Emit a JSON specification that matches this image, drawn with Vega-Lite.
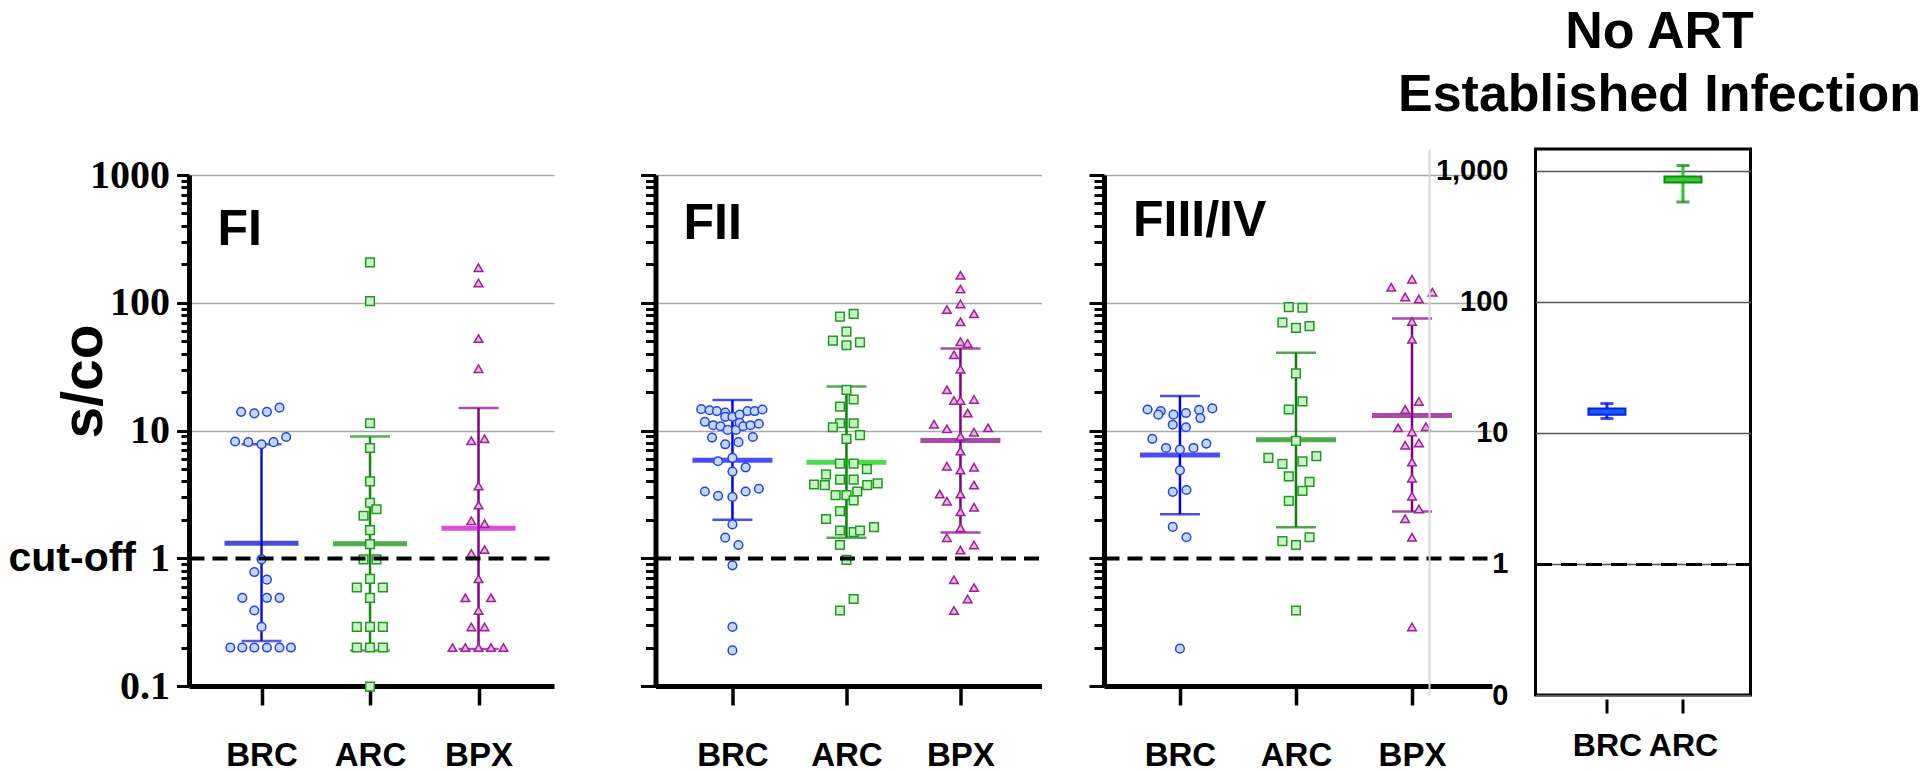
{
"$schema": "https://vega.github.io/schema/vega-lite/v6.json",
"background": "white",
"padding": {"left": 7, "top": 5, "right": 0, "bottom": 5},
"config": {"view": {"stroke": null}, "font": "Liberation Sans"},
"title": {"text": ["No ART", "Established Infection"], "anchor": "start", "frame": "group", "align": "center", "dx": 1470.5, "offset": 26, "font": "Liberation Sans", "fontWeight": "bold", "fontSize": 52, "lineHeight": 63, "color": "black"},
"datasets": {
"points": [
{"p":"FI","g":"BRC","v":14.0,"c":-1.7},{"p":"FI","g":"BRC","v":13.6,"c":-0.6},{"p":"FI","g":"BRC","v":14.0,"c":0.45},{"p":"FI","g":"BRC","v":15.1,"c":1.5},
{"p":"FI","g":"BRC","v":8.2,"c":-2.2},{"p":"FI","g":"BRC","v":8.1,"c":-1.1},{"p":"FI","g":"BRC","v":7.8,"c":0},{"p":"FI","g":"BRC","v":8.1,"c":1.0},{"p":"FI","g":"BRC","v":8.9,"c":2.05},
{"p":"FI","g":"BRC","v":0.98,"c":0},{"p":"FI","g":"BRC","v":0.78,"c":-0.6},{"p":"FI","g":"BRC","v":0.68,"c":0.45},
{"p":"FI","g":"BRC","v":0.49,"c":-1.6},{"p":"FI","g":"BRC","v":0.49,"c":0.45},{"p":"FI","g":"BRC","v":0.49,"c":1.5},
{"p":"FI","g":"BRC","v":0.39,"c":-0.6},{"p":"FI","g":"BRC","v":0.29,"c":0},
{"p":"FI","g":"BRC","v":0.2,"c":-2.6},{"p":"FI","g":"BRC","v":0.2,"c":-1.6},{"p":"FI","g":"BRC","v":0.2,"c":-0.6},{"p":"FI","g":"BRC","v":0.2,"c":0.45},{"p":"FI","g":"BRC","v":0.2,"c":1.5},{"p":"FI","g":"BRC","v":0.2,"c":2.45},
{"p":"FI","g":"ARC","v":207,"c":0},{"p":"FI","g":"ARC","v":103,"c":0},{"p":"FI","g":"ARC","v":11.4,"c":0},{"p":"FI","g":"ARC","v":7.3,"c":0},{"p":"FI","g":"ARC","v":4.0,"c":0},
{"p":"FI","g":"ARC","v":2.72,"c":0},{"p":"FI","g":"ARC","v":2.42,"c":0.54},{"p":"FI","g":"ARC","v":2.15,"c":-0.54},{"p":"FI","g":"ARC","v":1.66,"c":0},{"p":"FI","g":"ARC","v":1.29,"c":0},
{"p":"FI","g":"ARC","v":0.98,"c":-0.54},{"p":"FI","g":"ARC","v":0.98,"c":0.54},{"p":"FI","g":"ARC","v":0.69,"c":0},{"p":"FI","g":"ARC","v":0.59,"c":-1.1},{"p":"FI","g":"ARC","v":0.59,"c":1.07},
{"p":"FI","g":"ARC","v":0.49,"c":0},{"p":"FI","g":"ARC","v":0.29,"c":-1.1},{"p":"FI","g":"ARC","v":0.29,"c":0},{"p":"FI","g":"ARC","v":0.29,"c":1.07},
{"p":"FI","g":"ARC","v":0.2,"c":-1.1},{"p":"FI","g":"ARC","v":0.2,"c":0},{"p":"FI","g":"ARC","v":0.2,"c":1.07},{"p":"FI","g":"ARC","v":0.099,"c":0},
{"p":"FI","g":"BPX","v":188,"c":0},{"p":"FI","g":"BPX","v":143,"c":0},{"p":"FI","g":"BPX","v":52.5,"c":0},{"p":"FI","g":"BPX","v":30.5,"c":0},
{"p":"FI","g":"BPX","v":8.3,"c":-0.6},{"p":"FI","g":"BPX","v":8.6,"c":0.5},{"p":"FI","g":"BPX","v":3.68,"c":0},{"p":"FI","g":"BPX","v":2.61,"c":0},
{"p":"FI","g":"BPX","v":1.97,"c":-0.6},{"p":"FI","g":"BPX","v":1.87,"c":0.5},{"p":"FI","g":"BPX","v":1.09,"c":-0.6},{"p":"FI","g":"BPX","v":1.17,"c":0.5},
{"p":"FI","g":"BPX","v":0.69,"c":0},{"p":"FI","g":"BPX","v":0.49,"c":-1.1},{"p":"FI","g":"BPX","v":0.49,"c":1.04},{"p":"FI","g":"BPX","v":0.39,"c":0},
{"p":"FI","g":"BPX","v":0.29,"c":-0.6},{"p":"FI","g":"BPX","v":0.29,"c":0.5},
{"p":"FI","g":"BPX","v":0.2,"c":-2.17},{"p":"FI","g":"BPX","v":0.2,"c":-1.1},{"p":"FI","g":"BPX","v":0.2,"c":0},{"p":"FI","g":"BPX","v":0.2,"c":1.04},{"p":"FI","g":"BPX","v":0.2,"c":2.08},

{"p":"FII","g":"BRC","v":14.7,"c":-2.6},{"p":"FII","g":"BRC","v":14.4,"c":-1.9},{"p":"FII","g":"BRC","v":14.2,"c":-1.3},{"p":"FII","g":"BRC","v":13.8,"c":-0.6},{"p":"FII","g":"BRC","v":12.8,"c":-0.6},
{"p":"FII","g":"BRC","v":12.8,"c":0},{"p":"FII","g":"BRC","v":13.3,"c":0.6},{"p":"FII","g":"BRC","v":14.2,"c":1.25},{"p":"FII","g":"BRC","v":14.2,"c":1.85},{"p":"FII","g":"BRC","v":14.6,"c":2.5},
{"p":"FII","g":"BRC","v":11.7,"c":-2.3},{"p":"FII","g":"BRC","v":11.0,"c":-1.6},{"p":"FII","g":"BRC","v":10.8,"c":-1.0},{"p":"FII","g":"BRC","v":10.1,"c":-0.4},{"p":"FII","g":"BRC","v":10.1,"c":0.3},
{"p":"FII","g":"BRC","v":11.5,"c":0.6},{"p":"FII","g":"BRC","v":10.8,"c":0.9},{"p":"FII","g":"BRC","v":11.0,"c":1.5},{"p":"FII","g":"BRC","v":11.3,"c":2.2},
{"p":"FII","g":"BRC","v":8.8,"c":-1.7},{"p":"FII","g":"BRC","v":7.8,"c":-0.6},{"p":"FII","g":"BRC","v":8.1,"c":0.5},{"p":"FII","g":"BRC","v":8.9,"c":1.7},
{"p":"FII","g":"BRC","v":6.1,"c":0},{"p":"FII","g":"BRC","v":5.75,"c":-1.2},{"p":"FII","g":"BRC","v":4.77,"c":0},{"p":"FII","g":"BRC","v":5.15,"c":1.1},
{"p":"FII","g":"BRC","v":3.33,"c":-2.3},{"p":"FII","g":"BRC","v":3.08,"c":-1.2},{"p":"FII","g":"BRC","v":3.02,"c":0},{"p":"FII","g":"BRC","v":3.33,"c":1.1},{"p":"FII","g":"BRC","v":3.5,"c":2.2},
{"p":"FII","g":"BRC","v":1.84,"c":0},{"p":"FII","g":"BRC","v":1.45,"c":-0.6},{"p":"FII","g":"BRC","v":1.27,"c":0.5},
{"p":"FII","g":"BRC","v":0.88,"c":0},{"p":"FII","g":"BRC","v":0.29,"c":0},{"p":"FII","g":"BRC","v":0.19,"c":0},
{"p":"FII","g":"ARC","v":77.8,"c":-0.54},{"p":"FII","g":"ARC","v":81.9,"c":0.6},{"p":"FII","g":"ARC","v":59.4,"c":0},{"p":"FII","g":"ARC","v":50.6,"c":-1.13},{"p":"FII","g":"ARC","v":49.0,"c":1.13},
{"p":"FII","g":"ARC","v":46.5,"c":0},{"p":"FII","g":"ARC","v":20.8,"c":0},{"p":"FII","g":"ARC","v":17.5,"c":0.6},{"p":"FII","g":"ARC","v":15.4,"c":-0.54},{"p":"FII","g":"ARC","v":11.4,"c":-0.54},
{"p":"FII","g":"ARC","v":11.4,"c":0.6},{"p":"FII","g":"ARC","v":10.6,"c":-1.13},{"p":"FII","g":"ARC","v":9.2,"c":1.13},{"p":"FII","g":"ARC","v":8.6,"c":0},{"p":"FII","g":"ARC","v":5.5,"c":-0.54},
{"p":"FII","g":"ARC","v":5.5,"c":0.6},{"p":"FII","g":"ARC","v":4.99,"c":1.7},{"p":"FII","g":"ARC","v":4.53,"c":-1.7},{"p":"FII","g":"ARC","v":4.12,"c":-0.54},{"p":"FII","g":"ARC","v":4.12,"c":0.6},
{"p":"FII","g":"ARC","v":3.78,"c":-2.7},{"p":"FII","g":"ARC","v":3.74,"c":-1.8},{"p":"FII","g":"ARC","v":3.74,"c":1.73},{"p":"FII","g":"ARC","v":3.86,"c":2.6},{"p":"FII","g":"ARC","v":3.33,"c":0.9},
{"p":"FII","g":"ARC","v":3.12,"c":-0.9},{"p":"FII","g":"ARC","v":3.12,"c":0},{"p":"FII","g":"ARC","v":2.84,"c":0.6},{"p":"FII","g":"ARC","v":2.34,"c":-0.54},{"p":"FII","g":"ARC","v":2.03,"c":-1.7},
{"p":"FII","g":"ARC","v":1.65,"c":-0.54},{"p":"FII","g":"ARC","v":1.6,"c":0.6},{"p":"FII","g":"ARC","v":1.65,"c":1.13},{"p":"FII","g":"ARC","v":1.75,"c":2.3},{"p":"FII","g":"ARC","v":1.27,"c":-0.54},
{"p":"FII","g":"ARC","v":0.97,"c":0},{"p":"FII","g":"ARC","v":0.48,"c":0.6},{"p":"FII","g":"ARC","v":0.39,"c":-0.54},
{"p":"FII","g":"BPX","v":164,"c":0},{"p":"FII","g":"BPX","v":128,"c":0},{"p":"FII","g":"BPX","v":98,"c":0},{"p":"FII","g":"BPX","v":88.5,"c":-1.13},{"p":"FII","g":"BPX","v":81.9,"c":1.13},
{"p":"FII","g":"BPX","v":71,"c":0},{"p":"FII","g":"BPX","v":49.6,"c":0},{"p":"FII","g":"BPX","v":48,"c":0.6},{"p":"FII","g":"BPX","v":39.1,"c":-0.54},{"p":"FII","g":"BPX","v":30.2,"c":0},
{"p":"FII","g":"BPX","v":20.8,"c":-1.13},{"p":"FII","g":"BPX","v":17.2,"c":-0.54},{"p":"FII","g":"BPX","v":17.2,"c":0},{"p":"FII","g":"BPX","v":17.5,"c":1.13},{"p":"FII","g":"BPX","v":13.7,"c":0.6},
{"p":"FII","g":"BPX","v":11.2,"c":-2.2},{"p":"FII","g":"BPX","v":10.3,"c":-1.13},{"p":"FII","g":"BPX","v":10.5,"c":2.3},{"p":"FII","g":"BPX","v":9.7,"c":1.13},{"p":"FII","g":"BPX","v":9.0,"c":0},
{"p":"FII","g":"BPX","v":6.9,"c":0},{"p":"FII","g":"BPX","v":5.26,"c":-1.13},{"p":"FII","g":"BPX","v":5.16,"c":1.13},{"p":"FII","g":"BPX","v":4.9,"c":0},{"p":"FII","g":"BPX","v":3.74,"c":1.13},
{"p":"FII","g":"BPX","v":3.18,"c":-1.73},{"p":"FII","g":"BPX","v":2.8,"c":-1.13},{"p":"FII","g":"BPX","v":3.18,"c":0},{"p":"FII","g":"BPX","v":2.51,"c":1.13},{"p":"FII","g":"BPX","v":2.31,"c":0},
{"p":"FII","g":"BPX","v":1.73,"c":0},{"p":"FII","g":"BPX","v":1.45,"c":-1.13},{"p":"FII","g":"BPX","v":1.27,"c":1.13},{"p":"FII","g":"BPX","v":1.16,"c":0},{"p":"FII","g":"BPX","v":0.68,"c":-0.54},
{"p":"FII","g":"BPX","v":0.59,"c":1.13},{"p":"FII","g":"BPX","v":0.48,"c":0.6},{"p":"FII","g":"BPX","v":0.39,"c":-0.54},

{"p":"FIII/IV","g":"BRC","v":14.6,"c":-2.7},{"p":"FIII/IV","g":"BRC","v":14.2,"c":-1.6},{"p":"FIII/IV","g":"BRC","v":13.3,"c":-1.8},{"p":"FIII/IV","g":"BRC","v":13.3,"c":-0.54},{"p":"FIII/IV","g":"BRC","v":13.7,"c":0.5},
{"p":"FIII/IV","g":"BRC","v":14.5,"c":1.6},{"p":"FIII/IV","g":"BRC","v":14.9,"c":2.7},{"p":"FIII/IV","g":"BRC","v":12.5,"c":1.7},{"p":"FIII/IV","g":"BRC","v":11.1,"c":-0.6},{"p":"FIII/IV","g":"BRC","v":10.6,"c":0.5},
{"p":"FIII/IV","g":"BRC","v":8.6,"c":-2.3},{"p":"FIII/IV","g":"BRC","v":7.9,"c":2.2},{"p":"FIII/IV","g":"BRC","v":7.3,"c":-1.16},{"p":"FIII/IV","g":"BRC","v":7.1,"c":0},{"p":"FIII/IV","g":"BRC","v":7.3,"c":1.13},
{"p":"FIII/IV","g":"BRC","v":4.88,"c":0},{"p":"FIII/IV","g":"BRC","v":3.31,"c":-0.6},{"p":"FIII/IV","g":"BRC","v":3.42,"c":0.54},{"p":"FIII/IV","g":"BRC","v":1.76,"c":-0.6},{"p":"FIII/IV","g":"BRC","v":1.46,"c":0.54},
{"p":"FIII/IV","g":"BRC","v":0.196,"c":0},
{"p":"FIII/IV","g":"ARC","v":92.5,"c":-0.6},{"p":"FIII/IV","g":"ARC","v":91.4,"c":0.54},{"p":"FIII/IV","g":"ARC","v":70.1,"c":-1.13},{"p":"FIII/IV","g":"ARC","v":65.7,"c":1.13},{"p":"FIII/IV","g":"ARC","v":63.6,"c":0},
{"p":"FIII/IV","g":"ARC","v":28.0,"c":0},{"p":"FIII/IV","g":"ARC","v":16.9,"c":0.54},{"p":"FIII/IV","g":"ARC","v":14.6,"c":-0.6},{"p":"FIII/IV","g":"ARC","v":8.3,"c":0},{"p":"FIII/IV","g":"ARC","v":6.1,"c":-2.3},
{"p":"FIII/IV","g":"ARC","v":6.3,"c":1.7},{"p":"FIII/IV","g":"ARC","v":5.48,"c":-1.13},{"p":"FIII/IV","g":"ARC","v":5.73,"c":0.54},{"p":"FIII/IV","g":"ARC","v":4.37,"c":-0.6},{"p":"FIII/IV","g":"ARC","v":3.96,"c":1.13},
{"p":"FIII/IV","g":"ARC","v":3.37,"c":0.54},{"p":"FIII/IV","g":"ARC","v":2.81,"c":-0.6},{"p":"FIII/IV","g":"ARC","v":1.36,"c":-1.13},{"p":"FIII/IV","g":"ARC","v":1.46,"c":1.13},{"p":"FIII/IV","g":"ARC","v":1.27,"c":0},
{"p":"FIII/IV","g":"ARC","v":0.39,"c":0},
{"p":"FIII/IV","g":"BPX","v":153,"c":0},{"p":"FIII/IV","g":"BPX","v":132,"c":-1.73},{"p":"FIII/IV","g":"BPX","v":121,"c":1.7},{"p":"FIII/IV","g":"BPX","v":111,"c":-0.57},{"p":"FIII/IV","g":"BPX","v":107,"c":0.57},
{"p":"FIII/IV","g":"BPX","v":71.4,"c":0},{"p":"FIII/IV","g":"BPX","v":51.7,"c":0},{"p":"FIII/IV","g":"BPX","v":16.9,"c":0.57},{"p":"FIII/IV","g":"BPX","v":14.6,"c":-0.57},{"p":"FIII/IV","g":"BPX","v":10.5,"c":-1.16},
{"p":"FIII/IV","g":"BPX","v":10.7,"c":1.16},{"p":"FIII/IV","g":"BPX","v":9.75,"c":0},{"p":"FIII/IV","g":"BPX","v":7.67,"c":-0.57},{"p":"FIII/IV","g":"BPX","v":8.0,"c":0.57},{"p":"FIII/IV","g":"BPX","v":5.66,"c":0},
{"p":"FIII/IV","g":"BPX","v":4.23,"c":0},{"p":"FIII/IV","g":"BPX","v":3.06,"c":0},{"p":"FIII/IV","g":"BPX","v":2.43,"c":0.57},{"p":"FIII/IV","g":"BPX","v":2.04,"c":-0.57},{"p":"FIII/IV","g":"BPX","v":1.46,"c":0},
{"p":"FIII/IV","g":"BPX","v":0.29,"c":0}
],
"summary": [
{"p":"FI","g":"BRC","median":1.31,"lo":0.225,"hi":7.8},
{"p":"FI","g":"ARC","median":1.30,"lo":0.19,"hi":8.96},
{"p":"FI","g":"BPX","median":1.72,"lo":0.195,"hi":15.0},
{"p":"FII","g":"BRC","median":5.86,"lo":2.0,"hi":17.3},
{"p":"FII","g":"ARC","median":5.64,"lo":1.45,"hi":22.1},
{"p":"FII","g":"BPX","median":8.35,"lo":1.59,"hi":43.9},
{"p":"FIII/IV","g":"BRC","median":6.44,"lo":2.21,"hi":18.6},
{"p":"FIII/IV","g":"ARC","median":8.45,"lo":1.75,"hi":40.7},
{"p":"FIII/IV","g":"BPX","median":13.1,"lo":2.32,"hi":75.2}
],
"noart": [
{"g":"BRC","lo":12.9,"q1":13.8,"median":14.6,"q3":15.4,"hi":16.8},
{"g":"ARC","lo":580,"q1":818,"median":860,"q3":908,"hi":1101}
]
},
"bounds": "flush",
"spacing": 43.5,
"hconcat": [
{
"width": 422.5, "height": 537,
"view": {"stroke": null},
"title": {"text": "FI", "anchor": "start", "frame": "group", "baseline": "alphabetic", "offset": 0, "dx": 28.5, "dy": 146, "font": "Liberation Sans", "fontWeight": "bold", "fontSize": 50, "color": "black"},
"resolve": {"scale": {"color": "independent", "fill": "independent", "stroke": "independent"}, "axis": {"y": "independent"}},
"layer": [
{"data": {"name": "summary"}, "transform": [{"filter": "datum.p == 'FI'"}], "mark": {"type": "rule", "strokeWidth": 2.5},
 "encoding": {"x": {"field": "g", "type": "nominal", "scale": {"type": "point", "domain": ["BRC","ARC","BPX"], "range": [0, 365], "padding": 0.682, "align": 0.49},
   "axis": {"title": null, "domain": true, "domainColor": "black", "domainWidth": 5, "ticks": true, "tickSize": 19, "tickWidth": 3.5, "tickColor": "black", "labelFont": "Liberation Sans", "labelFontWeight": "bold", "labelFontSize": 33, "labelColor": "black", "labelPadding": 34, "labelAngle": 0, "grid": false}},
  "y": {"field": "lo", "type": "quantitative", "scale": {"type": "log", "domain": [0.1, 1598], "nice": false},
   "axis": {"orient": "left", "domain": false, "grid": false, "values": [0.2,0.3,0.4,0.5,0.6,0.7,0.8,0.9,1,2,3,4,5,6,7,8,9,20,30,40,50,60,70,80,90,200,300,400,500,600,700,800,900],
     "tickSize": 8, "tickWidth": 3, "tickColor": "black", "labelExpr": "datum.value == 1 ? 'cut-off' : ''", "labelFont": "Liberation Sans", "labelFontWeight": "bold", "labelFontSize": 41, "labelColor": "black", "labelPadding": 45.5, "labelOverlap": false, "labelFlush": false, "labelBound": false, "title": null}},
  "y2": {"field": "hi"},
  "color": {"field": "g", "type": "nominal", "scale": {"domain": ["BRC","ARC","BPX"], "range": ["#1414d4","#168a16","#860086"]}, "legend": null}}},
{"data": {"name": "summary"}, "transform": [{"filter": "datum.p == 'FI'"}], "mark": {"type": "tick", "size": 40, "thickness": 2.5, "orient": "horizontal"},
 "encoding": {"x": {"field": "g", "type": "nominal", "scale": {"type": "point", "domain": ["BRC","ARC","BPX"], "range": [0, 365], "padding": 0.682, "align": 0.49},
   "axis": {"title": null, "domain": true, "domainColor": "black", "domainWidth": 5, "ticks": true, "tickSize": 19, "tickWidth": 3.5, "tickColor": "black", "labelFont": "Liberation Sans", "labelFontWeight": "bold", "labelFontSize": 33, "labelColor": "black", "labelPadding": 34, "labelAngle": 0, "grid": false}},
  "y": {"field": "lo", "type": "quantitative",
   "axis": {"orient": "left", "zindex": 1, "domain": false, "ticks": false, "labels": false, "grid": true, "gridColor": "black", "gridWidth": 4, "gridDash": [15, 8], "values": [1], "title": null}},
  "color": {"field": "g", "type": "nominal", "scale": {"domain": ["BRC","ARC","BPX"], "range": ["#1414d4","#168a16","#860086"]}, "legend": null}}},
{"data": {"name": "summary"}, "transform": [{"filter": "datum.p == 'FI'"}], "mark": {"type": "tick", "size": 40, "thickness": 2.5, "orient": "horizontal"},
 "encoding": {"x": {"field": "g", "type": "nominal", "scale": {"type": "point", "domain": ["BRC","ARC","BPX"], "range": [0, 365], "padding": 0.682, "align": 0.49},
   "axis": {"title": null, "domain": true, "domainColor": "black", "domainWidth": 5, "ticks": true, "tickSize": 19, "tickWidth": 3.5, "tickColor": "black", "labelFont": "Liberation Sans", "labelFontWeight": "bold", "labelFontSize": 33, "labelColor": "black", "labelPadding": 34, "labelAngle": 0, "grid": false}},
  "y": {"field": "hi", "type": "quantitative",
   "axis": {"orient": "left", "domain": true, "domainColor": "black", "domainWidth": 5, "domainDash": [511, 200], "grid": true, "gridColor": "#a8a8a8", "gridWidth": 1.5, "gridOpacity": {"condition": {"test": "datum.value < 5", "value": 0}, "value": 1},
     "values": [0.1, 1, 10, 100, 1000], "ticks": true, "tickSize": 12.5, "tickWidth": 3, "tickColor": "black",
     "labelExpr": "datum.value < 0.5 ? '0.1' : format(datum.value, 'd')", "labelFont": "Liberation Serif", "labelFontWeight": "bold", "labelFontSize": 40, "labelColor": "black", "labelPadding": 7, "labelOverlap": false, "labelFlush": false, "labelBound": false,
     "title": "s/co", "titleFont": "Liberation Sans", "titleFontWeight": "bold", "titleFontSize": 57, "titleColor": "black", "titleX": -75.5, "titleY": 232}},
  "color": {"field": "g", "type": "nominal", "scale": {"domain": ["BRC","ARC","BPX"], "range": ["#1414d4","#168a16","#860086"]}, "legend": null}}},
{"data": {"name": "summary"}, "transform": [{"filter": "datum.p == 'FI'"}], "mark": {"type": "tick", "size": 74, "thickness": 5, "orient": "horizontal"},
 "encoding": {"x": {"field": "g", "type": "nominal", "scale": {"type": "point", "domain": ["BRC","ARC","BPX"], "range": [0, 365], "padding": 0.682, "align": 0.49},
   "axis": {"title": null, "domain": true, "domainColor": "black", "domainWidth": 5, "ticks": true, "tickSize": 19, "tickWidth": 3.5, "tickColor": "black", "labelFont": "Liberation Sans", "labelFontWeight": "bold", "labelFontSize": 33, "labelColor": "black", "labelPadding": 34, "labelAngle": 0, "grid": false}},
  "y": {"field": "median", "type": "quantitative", "axis": null},
  "color": {"field": "g", "type": "nominal", "scale": {"domain": ["BRC","ARC","BPX"], "range": ["#0000cc","#008a00","#cc00cc"]}, "legend": null}}},
{"data": {"name": "points"}, "transform": [{"filter": "datum.p == 'FI'"}], "mark": {"type": "point", "filled": true, "size": 75, "strokeWidth": 1.5, "opacity": 1},
 "encoding": {"x": {"field": "g", "type": "nominal", "scale": {"type": "point", "domain": ["BRC","ARC","BPX"], "range": [0, 365], "padding": 0.682, "align": 0.49},
   "axis": {"title": null, "domain": true, "domainColor": "black", "domainWidth": 5, "ticks": true, "tickSize": 19, "tickWidth": 3.5, "tickColor": "black", "labelFont": "Liberation Sans", "labelFontWeight": "bold", "labelFontSize": 33, "labelColor": "black", "labelPadding": 34, "labelAngle": 0, "grid": false}},
  "xOffset": {"field": "c", "type": "quantitative", "scale": {"domain": [-3, 3], "range": [-36, 36]}},
  "y": {"field": "v", "type": "quantitative", "axis": null},
  "shape": {"field": "g", "type": "nominal", "scale": {"domain": ["BRC","ARC","BPX"], "range": ["circle","square","triangle-up"]}, "legend": null},
  "fill": {"field": "g", "type": "nominal", "scale": {"domain": ["BRC","ARC","BPX"], "range": ["#c6d8f8","#c8f4c8","#e6b4e2"]}, "legend": null},
  "stroke": {"field": "g", "type": "nominal", "scale": {"domain": ["BRC","ARC","BPX"], "range": ["#2244ee","#1e9a1e","#a0209a"]}, "legend": null}}}
]
},
{
"width": 404.5, "height": 537,
"view": {"stroke": null},
"title": {"text": "FII", "anchor": "start", "frame": "group", "baseline": "alphabetic", "offset": 0, "dx": 28, "dy": 140, "font": "Liberation Sans", "fontWeight": "bold", "fontSize": 50, "color": "black"},
"resolve": {"scale": {"color": "independent", "fill": "independent", "stroke": "independent"}, "axis": {"y": "independent"}},
"layer": [
{"data": {"name": "summary"}, "transform": [{"filter": "datum.p == 'FII'"}], "mark": {"type": "rule", "strokeWidth": 2.5},
 "encoding": {"x": {"field": "g", "type": "nominal", "scale": {"type": "point", "domain": ["BRC","ARC","BPX"], "range": [0, 386], "padding": 0.693, "align": 0.487},
   "axis": {"title": null, "domain": true, "domainColor": "black", "domainWidth": 5, "ticks": true, "tickSize": 19, "tickWidth": 3.5, "tickColor": "black", "labelFont": "Liberation Sans", "labelFontWeight": "bold", "labelFontSize": 33, "labelColor": "black", "labelPadding": 34, "labelAngle": 0, "grid": false}},
  "y": {"field": "lo", "type": "quantitative", "scale": {"type": "log", "domain": [0.1, 1598], "nice": false},
   "axis": {"orient": "left", "domain": false, "grid": false, "values": [0.2,0.3,0.4,0.5,0.6,0.7,0.8,0.9,2,3,4,5,6,7,8,9,20,30,40,50,60,70,80,90,200,300,400,500,600,700,800,900],
     "tickSize": 10, "tickWidth": 3, "tickColor": "black", "labels": false, "title": null}},
  "y2": {"field": "hi"},
  "color": {"field": "g", "type": "nominal", "scale": {"domain": ["BRC","ARC","BPX"], "range": ["#0000f0","#0e7e0e","#800080"]}, "legend": null}}},
{"data": {"name": "summary"}, "transform": [{"filter": "datum.p == 'FII'"}], "mark": {"type": "tick", "size": 40, "thickness": 2.5, "orient": "horizontal"},
 "encoding": {"x": {"field": "g", "type": "nominal", "scale": {"type": "point", "domain": ["BRC","ARC","BPX"], "range": [0, 386], "padding": 0.693, "align": 0.487},
   "axis": {"title": null, "domain": true, "domainColor": "black", "domainWidth": 5, "ticks": true, "tickSize": 19, "tickWidth": 3.5, "tickColor": "black", "labelFont": "Liberation Sans", "labelFontWeight": "bold", "labelFontSize": 33, "labelColor": "black", "labelPadding": 34, "labelAngle": 0, "grid": false}},
  "y": {"field": "lo", "type": "quantitative",
   "axis": {"orient": "left", "zindex": 1, "domain": false, "ticks": false, "labels": false, "grid": true, "gridColor": "black", "gridWidth": 4, "gridDash": [15, 8], "values": [1], "title": null}},
  "color": {"field": "g", "type": "nominal", "scale": {"domain": ["BRC","ARC","BPX"], "range": ["#0000f0","#0e7e0e","#800080"]}, "legend": null}}},
{"data": {"name": "summary"}, "transform": [{"filter": "datum.p == 'FII'"}], "mark": {"type": "tick", "size": 40, "thickness": 2.5, "orient": "horizontal"},
 "encoding": {"x": {"field": "g", "type": "nominal", "scale": {"type": "point", "domain": ["BRC","ARC","BPX"], "range": [0, 386], "padding": 0.693, "align": 0.487},
   "axis": {"title": null, "domain": true, "domainColor": "black", "domainWidth": 5, "ticks": true, "tickSize": 19, "tickWidth": 3.5, "tickColor": "black", "labelFont": "Liberation Sans", "labelFontWeight": "bold", "labelFontSize": 33, "labelColor": "black", "labelPadding": 34, "labelAngle": 0, "grid": false}},
  "y": {"field": "hi", "type": "quantitative",
   "axis": {"orient": "left", "domain": true, "domainColor": "black", "domainWidth": 5, "domainDash": [511, 200], "grid": true, "gridColor": "#a8a8a8", "gridWidth": 1.5, "gridOpacity": {"condition": {"test": "datum.value < 5", "value": 0}, "value": 1},
     "values": [0.1, 1, 10, 100, 1000], "ticks": true, "tickSize": 15, "tickWidth": 3, "tickColor": "black", "labels": false, "title": null}},
  "color": {"field": "g", "type": "nominal", "scale": {"domain": ["BRC","ARC","BPX"], "range": ["#0000f0","#0e7e0e","#800080"]}, "legend": null}}},
{"data": {"name": "summary"}, "transform": [{"filter": "datum.p == 'FII'"}], "mark": {"type": "tick", "size": 80, "thickness": 5, "orient": "horizontal"},
 "encoding": {"x": {"field": "g", "type": "nominal", "scale": {"type": "point", "domain": ["BRC","ARC","BPX"], "range": [0, 386], "padding": 0.693, "align": 0.487},
   "axis": {"title": null, "domain": true, "domainColor": "black", "domainWidth": 5, "ticks": true, "tickSize": 19, "tickWidth": 3.5, "tickColor": "black", "labelFont": "Liberation Sans", "labelFontWeight": "bold", "labelFontSize": 33, "labelColor": "black", "labelPadding": 34, "labelAngle": 0, "grid": false}},
  "y": {"field": "median", "type": "quantitative", "axis": null},
  "color": {"field": "g", "type": "nominal", "scale": {"domain": ["BRC","ARC","BPX"], "range": ["#0000ff","#00cc00","#800080"]}, "legend": null}}},
{"data": {"name": "points"}, "transform": [{"filter": "datum.p == 'FII'"}], "mark": {"type": "point", "filled": true, "size": 75, "strokeWidth": 1.5, "opacity": 1},
 "encoding": {"x": {"field": "g", "type": "nominal", "scale": {"type": "point", "domain": ["BRC","ARC","BPX"], "range": [0, 386], "padding": 0.693, "align": 0.487},
   "axis": {"title": null, "domain": true, "domainColor": "black", "domainWidth": 5, "ticks": true, "tickSize": 19, "tickWidth": 3.5, "tickColor": "black", "labelFont": "Liberation Sans", "labelFontWeight": "bold", "labelFontSize": 33, "labelColor": "black", "labelPadding": 34, "labelAngle": 0, "grid": false}},
  "xOffset": {"field": "c", "type": "quantitative", "scale": {"domain": [-3, 3], "range": [-36, 36]}},
  "y": {"field": "v", "type": "quantitative", "axis": null},
  "shape": {"field": "g", "type": "nominal", "scale": {"domain": ["BRC","ARC","BPX"], "range": ["circle","square","triangle-up"]}, "legend": null},
  "fill": {"field": "g", "type": "nominal", "scale": {"domain": ["BRC","ARC","BPX"], "range": ["#c6d8f8","#c8f4c8","#e6b4e2"]}, "legend": null},
  "stroke": {"field": "g", "type": "nominal", "scale": {"domain": ["BRC","ARC","BPX"], "range": ["#2244ee","#1e9a1e","#a0209a"]}, "legend": null}}}
]
},
{
"width": 388, "height": 537,
"view": {"stroke": null},
"title": {"text": "FIII/IV", "anchor": "start", "frame": "group", "baseline": "alphabetic", "offset": 0, "dx": 29, "dy": 136.5, "font": "Liberation Sans", "fontWeight": "bold", "fontSize": 50, "color": "black"},
"resolve": {"scale": {"color": "independent", "fill": "independent", "stroke": "independent"}, "axis": {"y": "independent"}},
"layer": [
{"data": {"name": "summary"}, "transform": [{"filter": "datum.p == 'FIII/IV'"}], "mark": {"type": "rule", "strokeWidth": 2.5},
 "encoding": {"x": {"field": "g", "type": "nominal", "scale": {"type": "point", "domain": ["BRC","ARC","BPX"], "range": [0, 388], "padding": 0.672, "align": 0.487},
   "axis": {"title": null, "domain": true, "domainColor": "black", "domainWidth": 5, "ticks": true, "tickSize": 19, "tickWidth": 3.5, "tickColor": "black", "labelFont": "Liberation Sans", "labelFontWeight": "bold", "labelFontSize": 33, "labelColor": "black", "labelPadding": 34, "labelAngle": 0, "grid": false}},
  "y": {"field": "lo", "type": "quantitative", "scale": {"type": "log", "domain": [0.1, 1598], "nice": false},
   "axis": {"orient": "left", "domain": false, "grid": false, "values": [0.2,0.3,0.4,0.5,0.6,0.7,0.8,0.9,2,3,4,5,6,7,8,9,20,30,40,50,60,70,80,90,200,300,400,500,600,700,800,900],
     "tickSize": 10, "tickWidth": 3, "tickColor": "black", "labels": false, "title": null}},
  "y2": {"field": "hi"},
  "color": {"field": "g", "type": "nominal", "scale": {"domain": ["BRC","ARC","BPX"], "range": ["#0000f0","#0e7e0e","#800080"]}, "legend": null}}},
{"data": {"name": "summary"}, "transform": [{"filter": "datum.p == 'FIII/IV'"}], "mark": {"type": "tick", "size": 40, "thickness": 2.5, "orient": "horizontal"},
 "encoding": {"x": {"field": "g", "type": "nominal", "scale": {"type": "point", "domain": ["BRC","ARC","BPX"], "range": [0, 388], "padding": 0.672, "align": 0.487},
   "axis": {"title": null, "domain": true, "domainColor": "black", "domainWidth": 5, "ticks": true, "tickSize": 19, "tickWidth": 3.5, "tickColor": "black", "labelFont": "Liberation Sans", "labelFontWeight": "bold", "labelFontSize": 33, "labelColor": "black", "labelPadding": 34, "labelAngle": 0, "grid": false}},
  "y": {"field": "lo", "type": "quantitative",
   "axis": {"orient": "left", "zindex": 1, "domain": false, "ticks": false, "labels": false, "grid": true, "gridColor": "black", "gridWidth": 4, "gridDash": [15, 8], "values": [1], "title": null}},
  "color": {"field": "g", "type": "nominal", "scale": {"domain": ["BRC","ARC","BPX"], "range": ["#0000f0","#0e7e0e","#800080"]}, "legend": null}}},
{"data": {"name": "summary"}, "transform": [{"filter": "datum.p == 'FIII/IV'"}], "mark": {"type": "tick", "size": 40, "thickness": 2.5, "orient": "horizontal"},
 "encoding": {"x": {"field": "g", "type": "nominal", "scale": {"type": "point", "domain": ["BRC","ARC","BPX"], "range": [0, 388], "padding": 0.672, "align": 0.487},
   "axis": {"title": null, "domain": true, "domainColor": "black", "domainWidth": 5, "ticks": true, "tickSize": 19, "tickWidth": 3.5, "tickColor": "black", "labelFont": "Liberation Sans", "labelFontWeight": "bold", "labelFontSize": 33, "labelColor": "black", "labelPadding": 34, "labelAngle": 0, "grid": false}},
  "y": {"field": "hi", "type": "quantitative",
   "axis": {"orient": "left", "domain": true, "domainColor": "black", "domainWidth": 5, "domainDash": [511, 200], "grid": true, "gridColor": "#a8a8a8", "gridWidth": 1.5, "gridOpacity": {"condition": {"test": "datum.value < 5", "value": 0}, "value": 1},
     "values": [0.1, 1, 10, 100, 1000], "ticks": true, "tickSize": 15, "tickWidth": 3, "tickColor": "black", "labels": false, "title": null}},
  "color": {"field": "g", "type": "nominal", "scale": {"domain": ["BRC","ARC","BPX"], "range": ["#0000f0","#0e7e0e","#800080"]}, "legend": null}}},
{"data": {"name": "summary"}, "transform": [{"filter": "datum.p == 'FIII/IV'"}], "mark": {"type": "tick", "size": 80, "thickness": 5, "orient": "horizontal"},
 "encoding": {"x": {"field": "g", "type": "nominal", "scale": {"type": "point", "domain": ["BRC","ARC","BPX"], "range": [0, 388], "padding": 0.672, "align": 0.487},
   "axis": {"title": null, "domain": true, "domainColor": "black", "domainWidth": 5, "ticks": true, "tickSize": 19, "tickWidth": 3.5, "tickColor": "black", "labelFont": "Liberation Sans", "labelFontWeight": "bold", "labelFontSize": 33, "labelColor": "black", "labelPadding": 34, "labelAngle": 0, "grid": false}},
  "y": {"field": "median", "type": "quantitative", "axis": null},
  "color": {"field": "g", "type": "nominal", "scale": {"domain": ["BRC","ARC","BPX"], "range": ["#0000ee","#008800","#800080"]}, "legend": null}}},
{"data": {"name": "points"}, "transform": [{"filter": "datum.p == 'FIII/IV'"}], "mark": {"type": "point", "filled": true, "size": 75, "strokeWidth": 1.5, "opacity": 1},
 "encoding": {"x": {"field": "g", "type": "nominal", "scale": {"type": "point", "domain": ["BRC","ARC","BPX"], "range": [0, 388], "padding": 0.672, "align": 0.487},
   "axis": {"title": null, "domain": true, "domainColor": "black", "domainWidth": 5, "ticks": true, "tickSize": 19, "tickWidth": 3.5, "tickColor": "black", "labelFont": "Liberation Sans", "labelFontWeight": "bold", "labelFontSize": 33, "labelColor": "black", "labelPadding": 34, "labelAngle": 0, "grid": false}},
  "xOffset": {"field": "c", "type": "quantitative", "scale": {"domain": [-3, 3], "range": [-36, 36]}},
  "y": {"field": "v", "type": "quantitative", "axis": null},
  "shape": {"field": "g", "type": "nominal", "scale": {"domain": ["BRC","ARC","BPX"], "range": ["circle","square","triangle-up"]}, "legend": null},
  "fill": {"field": "g", "type": "nominal", "scale": {"domain": ["BRC","ARC","BPX"], "range": ["#c6d8f8","#c8f4c8","#e6b4e2"]}, "legend": null},
  "stroke": {"field": "g", "type": "nominal", "scale": {"domain": ["BRC","ARC","BPX"], "range": ["#2244ee","#1e9a1e","#a0209a"]}, "legend": null}}}
]
},
{
"width": 215, "height": 546,
"view": {"stroke": "black", "strokeWidth": 3},
"resolve": {"scale": {"color": "independent", "fill": "independent", "stroke": "independent"}, "axis": {"y": "independent"}},
"layer": [
{"data": {"name": "noart"}, "mark": {"type": "rule", "strokeWidth": 3},
 "encoding": {"x": {"field": "g", "type": "nominal", "scale": {"type": "point", "domain": ["BRC","ARC"], "padding": 0.914, "align": 0.514},
   "axis": {"title": null, "domain": false, "offset": 4, "ticks": true, "tickSize": 14, "tickWidth": 3, "tickColor": "black", "labelFont": "Liberation Sans", "labelFontWeight": "bold", "labelFontSize": 32, "labelColor": "black", "labelPadding": 17, "labelAngle": 0, "grid": false}},
  "y": {"field": "lo", "type": "quantitative", "scale": {"type": "log", "domain": [0.1, 1472], "nice": false},
   "axis": {"orient": "left", "domain": false, "ticks": false, "tickSize": 0, "grid": true, "gridColor": "#555555", "gridWidth": 1.5, "values": [0.1, 1, 10, 100, 1000],
     "labelExpr": "datum.value < 0.5 ? '0' : format(datum.value, ',')", "labelFont": "Liberation Sans", "labelFontWeight": "bold", "labelFontSize": 29, "labelColor": "black", "labelPadding": 27.5, "labelOverlap": false, "labelFlush": false, "labelBound": false, "title": null}},
  "y2": {"field": "hi"},
  "color": {"field": "g", "type": "nominal", "scale": {"domain": ["BRC","ARC"], "range": ["#1133ff","#22cc22"]}, "legend": null}}},
{"data": {"name": "noart"}, "mark": {"type": "tick", "size": 13, "thickness": 3, "orient": "horizontal"},
 "encoding": {"x": {"field": "g", "type": "nominal", "scale": {"type": "point", "domain": ["BRC","ARC"], "padding": 0.914, "align": 0.514},
   "axis": {"title": null, "domain": false, "offset": 4, "ticks": true, "tickSize": 14, "tickWidth": 3, "tickColor": "black", "labelFont": "Liberation Sans", "labelFontWeight": "bold", "labelFontSize": 32, "labelColor": "black", "labelPadding": 17, "labelAngle": 0, "grid": false}},
  "y": {"field": "lo", "type": "quantitative",
   "axis": {"orient": "left", "offset": 106.5, "domain": true, "domainColor": "#d8d8d8", "domainWidth": 2, "ticks": false, "labels": false, "grid": false, "title": null}},
  "color": {"field": "g", "type": "nominal", "scale": {"domain": ["BRC","ARC"], "range": ["#0000dd","#0a7a0a"]}, "legend": null}}},
{"data": {"name": "noart"}, "mark": {"type": "tick", "size": 13, "thickness": 3, "orient": "horizontal"},
 "encoding": {"x": {"field": "g", "type": "nominal", "scale": {"type": "point", "domain": ["BRC","ARC"], "padding": 0.914, "align": 0.514},
   "axis": {"title": null, "domain": false, "offset": 4, "ticks": true, "tickSize": 14, "tickWidth": 3, "tickColor": "black", "labelFont": "Liberation Sans", "labelFontWeight": "bold", "labelFontSize": 32, "labelColor": "black", "labelPadding": 17, "labelAngle": 0, "grid": false}},
  "y": {"field": "hi", "type": "quantitative",
   "axis": {"orient": "left", "zindex": 1, "domain": false, "ticks": false, "labels": false, "grid": true, "gridColor": "black", "gridWidth": 3, "gridDash": [16, 9], "values": [1], "title": null}},
  "color": {"field": "g", "type": "nominal", "scale": {"domain": ["BRC","ARC"], "range": ["#0000dd","#0a7a0a"]}, "legend": null}}},
{"data": {"name": "noart"}, "mark": {"type": "bar", "size": 37, "strokeWidth": 2},
 "encoding": {"x": {"field": "g", "type": "nominal", "scale": {"type": "point", "domain": ["BRC","ARC"], "padding": 0.914, "align": 0.514},
   "axis": {"title": null, "domain": false, "offset": 4, "ticks": true, "tickSize": 14, "tickWidth": 3, "tickColor": "black", "labelFont": "Liberation Sans", "labelFontWeight": "bold", "labelFontSize": 32, "labelColor": "black", "labelPadding": 17, "labelAngle": 0, "grid": false}},
  "y": {"field": "q1", "type": "quantitative", "axis": null}, "y2": {"field": "q3"},
  "fill": {"field": "g", "type": "nominal", "scale": {"domain": ["BRC","ARC"], "range": ["#1a5cff","#33cc33"]}, "legend": null},
  "stroke": {"field": "g", "type": "nominal", "scale": {"domain": ["BRC","ARC"], "range": ["#0022ee","#118811"]}, "legend": null}}}
]
}
]
}
